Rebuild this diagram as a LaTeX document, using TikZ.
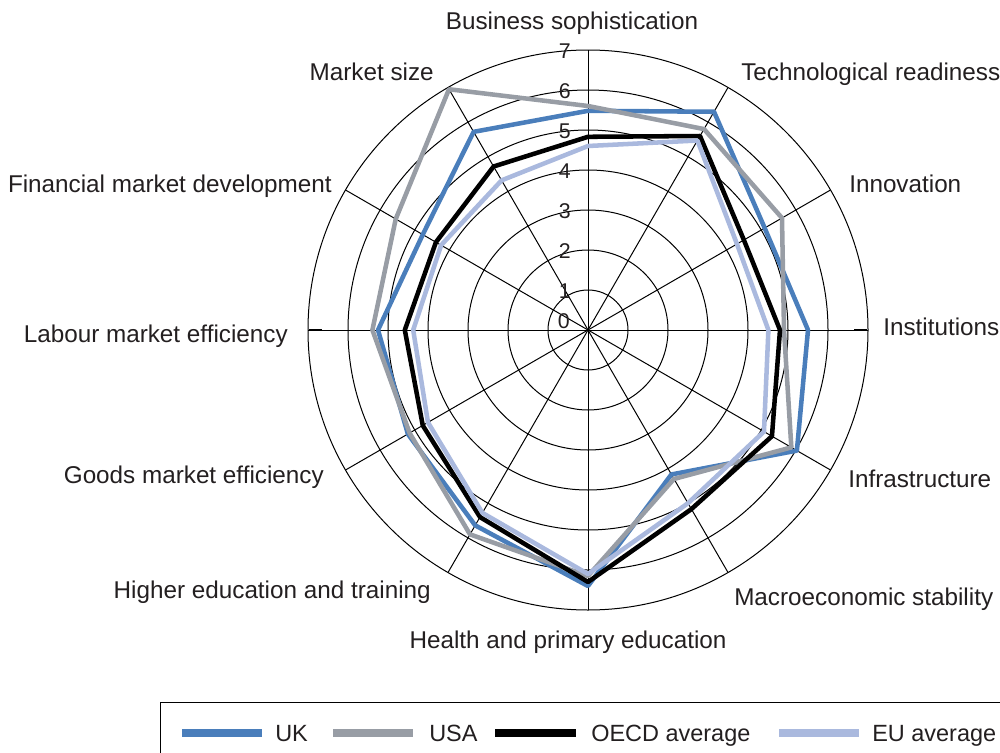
\documentclass[tikz,border=0pt]{standalone}
\usepackage{fontspec}
\setmainfont{Liberation Sans}
\definecolor{ukc}{RGB}{74,126,187}
\definecolor{usac}{RGB}{152,157,165}
\definecolor{euc}{RGB}{170,185,222}
\definecolor{txt}{RGB}{35,31,32}
\begin{document}
\begin{tikzpicture}[x=0.75pt,y=-0.75pt,
  lblw/.style={anchor=base west,inner sep=0pt,text=txt,font=\fontsize{18.2}{21}\selectfont},
  lble/.style={anchor=base east,inner sep=0pt,text=txt,font=\fontsize{18.2}{21}\selectfont},
  lblc/.style={anchor=base,inner sep=0pt,text=txt,font=\fontsize{18.2}{21}\selectfont},
  legtxt/.style={anchor=base west,inner sep=0pt,text=txt,font=\fontsize{17.6}{21}\selectfont},
  num/.style={anchor=east,inner sep=0pt,text=txt,font=\fontsize{16}{18}\selectfont},
  gridline/.style={line width=0.75pt,black},
  series/.style={line width=3.4pt,line join=round},
  legline/.style={line width=5.5pt},
]
\useasboundingbox (0,0) rectangle (1000,753);

% ---------- chart ----------
\begin{scope}[shift={(441pt,-247.5pt)},x=30pt,y=30pt]
  \coordinate (c) at (0,0);
  \foreach \k in {1,...,7} \draw[gridline] (c) circle[radius=\k*30pt];
  \foreach \a in {0,30,...,330} \draw[gridline] (c) -- (\a:7);
  \draw[line width=1.2pt] (6.65,0) -- (6.98,0);
  \draw[line width=1.2pt] (-6.98,0) -- (-6.65,0);
  % UK
  \draw[series,ukc] (90:5.48) -- (60:6.3) -- (30:5.1) -- (0:5.5) -- (-30:6.03)
    -- (-60:4.17) -- (-90:6.4) -- (-120:5.64) -- (-150:5.2) -- (180:5.25)
    -- (150:4.77) -- (120:5.72) -- cycle;
  % USA
  \draw[series,usac] (90:5.6) -- (60:5.8) -- (30:5.6) -- (0:4.9) -- (-30:5.87)
    -- (-60:4.3) -- (-90:6.15) -- (-120:5.9) -- (-150:5.15) -- (180:5.39)
    -- (150:5.55) -- (120:6.95) -- cycle;
  % OECD
  \draw[series,black] (90:4.83) -- (60:5.6) -- (30:4.5) -- (0:4.8) -- (-30:5.31)
    -- (-60:5.17) -- (-90:6.3) -- (-120:5.4) -- (-150:4.77) -- (180:4.58)
    -- (150:4.39) -- (120:4.72) -- cycle;
  % EU
  \draw[series,euc] (90:4.6) -- (60:5.47) -- (30:4.3) -- (0:4.51) -- (-30:5.08)
    -- (-60:5.0) -- (-90:6.1) -- (-120:5.28) -- (-150:4.62) -- (180:4.37)
    -- (150:4.24) -- (120:4.32) -- cycle;
\end{scope}

% ---------- value labels ----------
\node[num] (n7) at (571,51) {7};
\node[num] (n6) at (571,91) {6};
\node[num] (n5) at (571,131) {5};
\node[num] (n4) at (571,171) {4};
\node[num] (n3) at (571,211) {3};
\node[num] (n2) at (571,251) {2};
\node[num] (n1) at (571,291) {1};
\node[num] (n0) at (570,321) {0};

% ---------- category labels ----------
\node[lblc] (bus) at (572,30) {Business sophistication};
\node[lblw] (tech) at (741,80) {Technological readiness};
\node[lblw] (inno) at (849,192) {Innovation};
\node[lblw] (inst) at (883,335) {Institutions};
\node[lblw] (infra) at (848,487) {Infrastructure};
\node[lblw] (macro) at (734,605) {Macroeconomic stability};
\node[lblc] (health) at (568,648) {Health and primary education};
\node[lble] (higher) at (431,598) {Higher education and training};
\node[lble] (goods) at (324,483) {Goods market efficiency};
\node[lble] (labour) at (288,342) {Labour market efficiency};
\node[lble] (fin) at (332,192) {Financial market development};
\node[lble] (msize) at (434,80) {Market size};

% ---------- legend ----------
\draw[line width=0.9pt] (1002,702.5) -- (160.5,702.5) -- (160.5,756);
\draw[legline,ukc] (182,733) -- (262,733);
\node[legtxt] (leguk) at (275,741) {UK};
\draw[legline,usac] (333,733) -- (413,733);
\node[legtxt] (legusa) at (429,741) {USA};
\draw[legline,black] (495,733) -- (576,733);
\node[legtxt] (legoecd) at (591,741) {OECD average};
\draw[legline,euc] (779,733) -- (859,733);
\node[legtxt] (legeu) at (872,741) {EU average};
\end{tikzpicture}
\end{document}
